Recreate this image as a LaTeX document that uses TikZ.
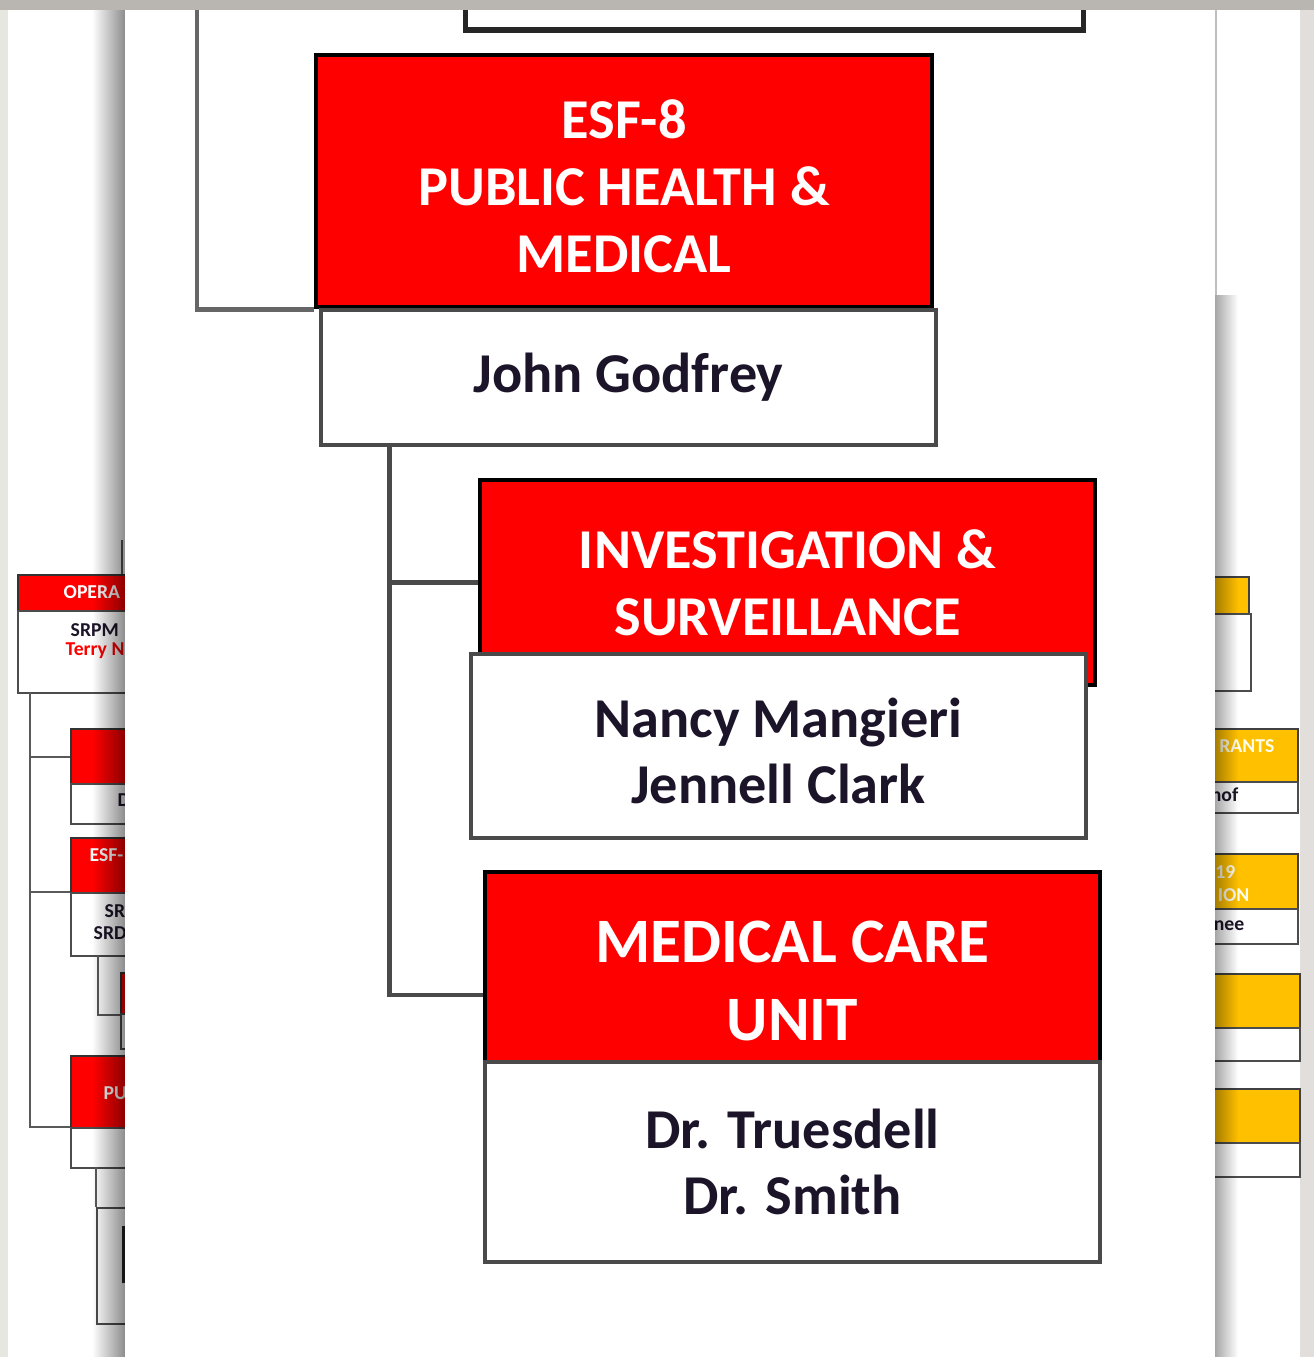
\documentclass[tikz,border=0pt]{standalone}
\usepackage{fontspec}
\setmainfont{Carlito}
\usetikzlibrary{fadings}
\definecolor{esfred}{HTML}{FF0000}
\definecolor{esfyellow}{HTML}{FFC000}
\definecolor{namecol}{HTML}{1C1428}
\definecolor{linegray}{HTML}{4A4A4A}
\definecolor{pagebg}{HTML}{E6E8E0}
\definecolor{topbar}{HTML}{B9B5B1}
\definecolor{stripgray}{HTML}{E2DEDC}
\tikzfading[name=fadein, left color=transparent!100, right color=transparent!0]
\tikzfading[name=fadeout, left color=transparent!0, right color=transparent!100]
\newcommand{\HeadFont}{\fontsize{16}{19}\selectfont\bfseries}
\newcommand{\UnitFont}{\fontsize{18}{22.2}\selectfont\bfseries}
\newcommand{\TinyFont}{\fontsize{5.6}{6.6}\selectfont\bfseries}

\begin{document}
\begin{tikzpicture}[x=0.01cm,y=-0.01cm,
  headbox/.style={draw=black, fill=esfred, line width=1.3pt, text=white, align=center, inner sep=0pt, font=\HeadFont},
  namebox/.style={draw=linegray, fill=white, line width=1.3pt, text=namecol, align=center, inner sep=0pt, font=\HeadFont},
  link/.style={draw=linegray, line width=1.3pt},
  smallred/.style={draw=black!80, fill=esfred, line width=0.6pt, anchor=north west, inner sep=0pt},
  smallyel/.style={draw=black!75, fill=esfyellow, line width=0.6pt, anchor=north west, inner sep=0pt},
  smallwhite/.style={draw=black!70, fill=white, line width=0.6pt, anchor=north west, inner sep=0pt},
  smalllink/.style={draw=black!65, line width=0.6pt},
  tinytxt/.style={font=\TinyFont, inner sep=0pt}]
\useasboundingbox (0,0) rectangle (1314,1357);

% page behind the zoomed panel
\fill[pagebg] (0,0) rectangle (1314,1357);
\fill[white] (8,8) rectangle (1300,1357);
\fill[stripgray] (1300,0) rectangle (1314,1357);
\fill[topbar] (0,0) rectangle (1314,10);

% left part of the chart
\node[smallred, minimum width=1.2cm, minimum height=0.36cm] (opera) at (17,574) {};
\node[smallwhite, minimum width=1.2cm, minimum height=0.82cm] (srpm) at (17,610) {};
\node[tinytxt, text=white, anchor=west] (opera-t) at (63,592) {OPERA};
\node[tinytxt, text=namecol, anchor=west] (srpm-t) at (70,630) {SRPM};
\node[tinytxt, text=esfred, anchor=west] (terry-t) at (65,651) {Terry N};
\coordinate (opera-up) at (122,540);
\draw[smalllink] (opera-up) -- (opera-up |- opera.north);

\node[smallred, minimum width=0.7cm, minimum height=0.55cm] (leftb) at (70,728) {};
\node[smallwhite, minimum width=0.7cm, minimum height=0.40cm] (leftb-n) at (70,783) {};
\node[tinytxt, text=namecol, anchor=west] (leftb-t) at (117,800) {D};

\node[smallred, minimum width=0.7cm, minimum height=0.55cm] (leftc) at (70,837) {};
\node[smallwhite, minimum width=0.7cm, minimum height=0.63cm] (leftc-n) at (70,892) {};
\node[tinytxt, text=white, anchor=west] (leftc-t) at (89,855) {ESF-};
\node[tinytxt, text=namecol, anchor=west] (leftc-t2) at (104,911) {SR};
\node[tinytxt, text=namecol, anchor=west] (leftc-t3) at (93,933) {SRD};

\node[smallred, minimum width=0.2cm, minimum height=0.41cm] (leftd) at (120,972) {};
\node[smallwhite, minimum width=0.2cm, minimum height=0.35cm] (leftd-n) at (120,1013) {};

\node[smallred, minimum width=0.7cm, minimum height=0.72cm] (lefte) at (70,1055) {};
\node[smallwhite, minimum width=0.7cm, minimum height=0.40cm] (lefte-n) at (70,1127) {};
\node[tinytxt, text=white, anchor=west] (lefte-t) at (103,1093) {PU};

\node[smallwhite, minimum width=0.5cm, minimum height=1.16cm] (leftf) at (96,1207) {};
\node[smallwhite, draw=black!85, line width=0.9pt, minimum width=0.2cm, minimum height=0.54cm] (leftg) at (122,1226) {};

\coordinate (opera-low) at (30,692);
\draw[smalllink] (opera-low) |- (leftb.west);
\draw[smalllink] (opera-low) |- (leftc-n.north west);
\draw[smalllink] (opera-low) |- (lefte-n.north west);
\coordinate (leftc-low) at (98,955);
\draw[smalllink] (leftc-low) |- (leftd.south west);
\coordinate (lefte-low) at (96,1167);
\draw[smalllink] (lefte-low) -- (leftf.north west);

% right part of the chart
\node[smallyel, minimum width=0.48cm, minimum height=0.37cm] (righta) at (1200,576) {};
\node[smallwhite, minimum width=0.50cm, minimum height=0.77cm] (righta-n) at (1200,613) {};

\node[smallyel, minimum width=0.97cm, minimum height=0.53cm] (rightb) at (1200,728) {};
\node[smallwhite, minimum width=0.97cm, minimum height=0.31cm] (rightb-n) at (1200,781) {};
\node[tinytxt, text=white!92!yellow, anchor=east] (rightb-t) at (1275,746) {RANTS};
\node[tinytxt, text=namecol, anchor=east] (rightb-t2) at (1239,795) {nof};

\node[smallyel, minimum width=0.97cm, minimum height=0.55cm] (rightc) at (1200,853) {};
\node[smallwhite, minimum width=0.97cm, minimum height=0.35cm] (rightc-n) at (1200,908) {};
\node[tinytxt, text=white!92!yellow, anchor=east] (rightc-t) at (1236,872) {19};
\node[tinytxt, text=white!92!yellow, anchor=east] (rightc-t2) at (1250,895) {ION};
\node[tinytxt, text=namecol, anchor=east] (rightc-t3) at (1245,926) {nee};

\node[smallyel, minimum width=0.99cm, minimum height=0.54cm] (rightd) at (1200,973) {};
\node[smallwhite, minimum width=0.99cm, minimum height=0.33cm] (rightd-n) at (1200,1027) {};
\node[smallyel, minimum width=0.99cm, minimum height=0.54cm] (righte) at (1200,1088) {};
\node[smallwhite, minimum width=0.99cm, minimum height=0.34cm] (righte-n) at (1200,1142) {};

% shadows of the zoomed panel
\fill[black, opacity=0.45, path fading=fadein] (92,10) rectangle (125,1357);
\fill[black, opacity=0.35, path fading=fadeout] (1215,295) rectangle (1238,1357);
\draw[black!25, line width=0.6pt] (1216,10) -- (1216,295);

% zoomed panel
\fill[white] (125,10) rectangle (1215,1357);
\begin{scope}
\clip (125,10) rectangle (1215,1357);
\node[namebox, draw=black!85, line width=1.5pt, minimum width=6.17cm, minimum height=1cm] (parent) at (774.5,-20) {};
\node[headbox, minimum width=6.16cm, minimum height=2.52cm] (esf8) at (624,181) {\rule{0pt}{14pt}ESF-8\\ PUBLIC HEALTH \&\\ MEDICAL};
\node[namebox, minimum width=6.15cm, minimum height=1.35cm] (godfrey) at (628.5,377.5) {John Godfrey};

\node[headbox, minimum width=6.15cm, minimum height=2.05cm] (invest) at (787.5,582.5) {INVESTIGATION \&\\ SURVEILLANCE};
\node[namebox, minimum width=6.15cm, minimum height=1.84cm] (nancy) at (778.5,746) {\rule{0pt}{14pt}Nancy Mangieri\\ Jennell Clark};

\node[headbox, font=\UnitFont, minimum width=6.15cm, minimum height=1.90cm] (medcare) at (792.5,967) {\rule{0pt}{20pt}MEDICAL CARE\\ UNIT};
\node[namebox, minimum width=6.15cm, minimum height=2.0cm] (drs) at (792.5,1162) {Dr. Truesdell\\ Dr. Smith};

\coordinate (esf8-up) at (197,10);
\draw[link, draw=black!60] (esf8-up) |- (esf8.south west);
\path (godfrey.south west) ++(71,0) coordinate (trunk);
\path (medcare.west) ++(0,28) coordinate (medjoin);
\draw[link] (trunk) |- (invest.west);
\draw[link] (trunk) |- (medjoin);
\end{scope}
\end{tikzpicture}
\end{document}
